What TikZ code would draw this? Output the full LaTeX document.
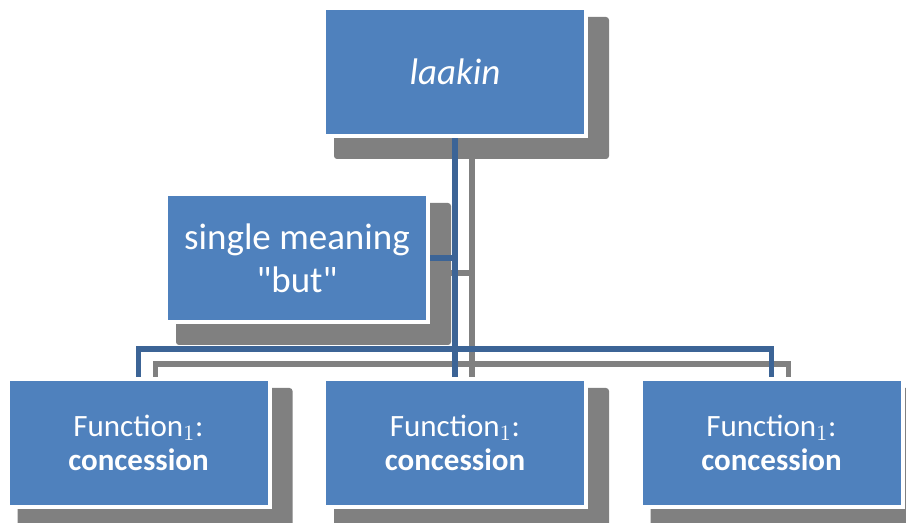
\documentclass[tikz,border=0pt]{standalone}
\usepackage{fontspec}
\setmainfont{Carlito}[Ligatures=TeXOff]
\usepackage{tikz}
\usetikzlibrary{calc}
\definecolor{boxblue}{HTML}{4F81BD}
\definecolor{linkblue}{HTML}{3C6496}
\definecolor{shadowgray}{HTML}{808080}
\pgfdeclarelayer{background}
\pgfsetlayers{background,main}
\tikzstyle{unit}=[rectangle, fill=boxblue, draw=white, line width=2pt, text=white, minimum width=131pt, minimum height=64pt, inner sep=0pt, align=center]
\tikzstyle{big}=[font=\fontsize{18.5}{21.5}\selectfont]
\tikzstyle{small}=[font=\fontsize{15.5}{17}\selectfont]
\tikzstyle{link}=[line width=2.75pt, color=linkblue]
\tikzstyle{linkshadow}=[line width=2.75pt, color=shadowgray, transform canvas={shift={(17,15)}}]
\tikzstyle{boxshadow}=[fill=shadowgray, rounded corners=1.5pt]

\begin{document}
\begin{tikzpicture}[x=0.5pt, y=-0.5pt]
\useasboundingbox (0,0) rectangle (906,523);
\node[unit, big] (top) at (455,72) {\textit{laakin}};
\node[unit, big] (single) at (297,258) {single meaning\\"but"};
\node[unit, small] (f1) at (138.5,443) {Function$_1$:\\\textbf{concession}};
\node[unit, small] (f2) at (455,443) {Function$_1$:\\\textbf{concession}};
\node[unit, small] (f3) at (771.5,443) {Function$_1$:\\\textbf{concession}};

\begin{pgfonlayer}{background}
\fill[boxshadow] ($(top.north west)+(12,11)$) rectangle ($(top.south east)+(21,21)$);
\fill[boxshadow] ($(single.north west)+(12,11)$) rectangle ($(single.south east)+(21,21)$);
\fill[boxshadow] ($(f1.north west)+(12,11)$) rectangle ($(f1.south east)+(21,21)$);
\fill[boxshadow] ($(f2.north west)+(12,11)$) rectangle ($(f2.south east)+(21,21)$);
\fill[boxshadow] ($(f3.north west)+(12,11)$) rectangle ($(f3.south east)+(21,21)$);

\draw[linkshadow] (top.south) -- (f2.north);
\draw[linkshadow] (single.east) -- (single.east -| top.south);
\draw[linkshadow] (f1.north) -- ++(0,-28) -| (f3.north);

\draw[link] (top.south) -- (f2.north);
\draw[link] (single.east) -- (single.east -| top.south);
\draw[link] (f1.north) -- ++(0,-28) -| (f3.north);
\end{pgfonlayer}
\end{tikzpicture}
\end{document}
